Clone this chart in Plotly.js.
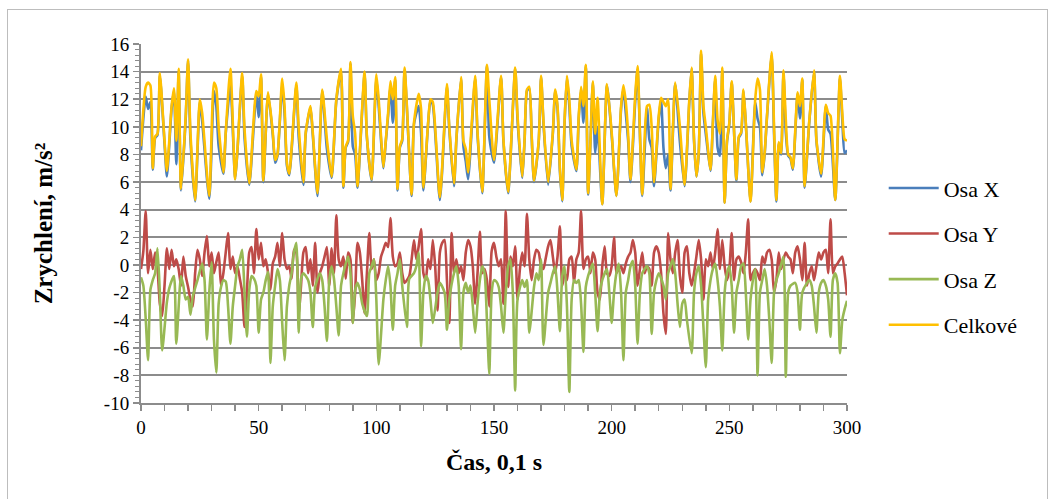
<!DOCTYPE html>
<html>
<head>
<meta charset="utf-8">
<script src="https://cdn.plot.ly/plotly-3.0.1.min.js"></script>
<style>
  html, body { margin: 0; padding: 0; background: #ffffff; }
  #wrap { position: relative; width: 1054px; height: 499px; overflow: hidden; }
  #chart { position: absolute; left: 0; top: 0; width: 1054px; height: 499px; }
  #frame { position: absolute; left: 7px; top: 9px; width: 1041px; height: 500px;
           border: 1px solid #bdbdbd; box-sizing: border-box; pointer-events: none; }
</style>
</head>
<body>
<div id="wrap">
  <div id="chart"></div>
  <div id="frame"></div>
</div>
<script>
// Time samples (0,1 s steps) and acceleration values, m/s^2
const tXC = [0,2,3,4,5,6,7,8,10,11,13,14,15,16,17,19,20,21,23,25,26,29,31,32,33,35,36,38,40,41,43,44,46,49,50,51,52,54,56,57,58,60,61,62,63,66,67,69,70,72,73,75,77,79,81,83,85,86,87,88,89,90,91,92,95,96,98,100,101,102,103,104,105,106,107,108,109,110,111,112,115,116,118,119,120,122,123,124,127,130,131,133,134,136,137,138,139,142,143,145,147,148,150,153,154,156,159,160,162,163,164,165,166,167,169,170,171,173,175,176,177,178,179,180,181,182,183,185,186,187,188,189,190,191,192,193,194,196,198,200,202,204,205,206,207,208,210,211,213,215,216,217,218,220,221,222,223,224,225,227,229,231,233,234,235,236,237,238,239,240,242,243,244,245,246,247,248,249,250,251,253,254,255,256,257,259,261,262,263,264,265,266,268,269,270,271,272,273,274,275,276,277,279,280,281,282,284,286,287,289,291,292,293,295,297,298,299,300];

const celkove = [8.6,12.9,13.2,13.0,7.0,9.3,9.5,13.9,9.0,6.8,11.5,12.8,9.0,14.2,5.5,10.8,14.9,9.6,4.7,12.0,11.0,5.0,13.2,12.8,10.0,6.7,9.6,14.2,6.2,8.4,13.9,9.8,5.9,12.6,12.2,13.8,6.1,12.5,9.6,7.6,8.0,13.5,11.5,7.4,6.6,13.2,10.0,6.0,9.6,11.5,9.6,5.2,12.7,9.1,6.4,12.0,14.2,5.7,8.6,9.0,14.7,10.8,9.5,5.7,14.0,9.3,6.2,13.8,12.0,9.3,7.1,9.0,11.0,13.3,12.0,13.6,5.5,8.6,9.1,14.3,5.1,10.3,12.4,11.3,5.6,10.3,12.0,11.8,4.9,13.1,10.0,5.9,9.1,13.6,9.0,8.4,6.7,13.7,9.6,5.3,14.5,12.0,7.6,13.7,9.1,5.3,14.3,10.8,6.4,9.1,12.7,12.9,9.5,6.1,9.0,13.7,10.5,6.0,9.6,12.7,11.5,7.0,4.7,10.5,13.7,12.0,9.0,6.9,10.8,12.9,11.5,14.5,5.2,9.0,13.3,9.5,12.1,4.4,13.1,9.6,5.0,11.5,13.0,11.8,9.5,6.2,12.3,14.4,5.1,11.5,11.6,10.0,6.0,10.8,12.1,11.8,11.5,12.0,5.5,13.2,10.0,5.8,12.0,14.3,9.1,6.4,8.2,15.5,11.5,10.0,6.9,10.3,13.7,10.5,9.5,14.3,4.5,9.0,10.3,13.3,6.2,9.3,9.6,12.7,10.3,4.6,12.0,13.5,12.7,6.7,8.1,10.8,15.4,10.0,4.7,8.9,8.1,14.1,10.5,8.0,7.8,7.0,12.5,11.5,13.5,5.7,10.5,14.1,9.1,6.6,11.6,11.0,10.8,4.7,13.7,11.0,9.1,9.0];

const osaX = [8.3,12.2,11.3,11.8,6.9,9.2,9.4,13.7,8.8,6.4,11.3,12.6,7.3,14.0,5.4,10.6,14.8,9.1,4.6,11.8,10.4,4.8,12.6,11.5,8.6,6.6,9.5,13.0,6.2,8.3,13.7,9.2,5.8,12.4,10.7,13.6,6.0,12.4,9.4,7.4,7.9,13.0,11.0,7.2,6.5,13.0,9.3,5.8,9.5,11.4,9.4,5.0,12.6,8.4,6.3,11.9,14.0,5.6,8.5,8.9,14.6,8.6,8.0,5.6,13.8,9.2,6.1,13.5,11.5,9.0,7.0,8.9,10.8,13.0,10.3,13.4,5.4,8.5,9.0,14.1,5.0,10.2,11.5,9.6,5.4,10.2,11.9,11.6,4.7,12.9,9.8,5.7,9.0,13.5,8.6,7.5,6.2,13.5,9.4,5.2,14.4,9.3,7.4,13.6,9.0,5.2,14.2,10.5,6.3,9.0,12.6,12.8,9.3,6.0,8.9,13.6,10.3,5.8,9.5,12.6,11.3,6.8,4.6,10.3,13.6,11.5,8.6,6.8,10.6,12.7,10.3,14.4,5.1,8.9,13.2,8.1,10.0,4.4,13.0,9.4,5.0,11.3,12.8,11.0,9.0,6.0,11.8,14.2,5.0,11.4,9.1,8.5,5.7,10.6,11.9,8.5,7.0,8.0,5.4,13.1,8.9,5.7,11.8,14.2,9.0,6.4,8.1,15.3,11.0,9.5,6.8,10.2,13.5,8.5,7.9,14.1,4.5,8.9,10.2,13.2,6.1,9.2,9.5,12.6,10.2,4.6,11.8,10.6,10.0,6.5,8.0,10.7,15.2,9.5,4.6,8.8,8.0,13.9,9.6,7.9,7.7,6.9,12.4,10.6,13.4,5.6,10.4,14.0,9.0,6.4,11.5,9.8,9.5,4.7,13.5,10.5,8.1,8.3];

const tY = [0,1,2,3,4,5,6,7,8,9,10,11,12,13,14,15,16,17,18,19,20,21,22,23,24,25,26,27,28,29,30,31,32,33,34,35,36,37,38,39,40,41,42,43,44,45,46,47,48,49,50,51,52,53,54,55,56,57,58,59,60,61,62,63,64,65,66,67,68,69,70,71,72,73,74,75,76,77,78,79,80,81,82,83,84,85,86,87,88,89,90,91,92,93,94,95,96,97,98,99,100,101,102,103,104,105,106,107,108,109,110,111,112,114,115,116,117,118,119,120,121,122,123,124,125,126,127,128,129,130,131,132,133,134,135,136,137,138,139,140,141,142,143,144,145,146,147,148,149,150,151,152,153,154,155,156,157,158,159,160,161,162,163,164,165,166,167,168,169,170,171,172,173,174,175,176,177,178,179,180,181,182,183,184,185,186,187,188,189,190,191,192,193,194,195,196,197,198,199,200,201,202,203,204,205,206,207,208,209,210,211,212,213,214,215,216,217,218,219,220,221,222,223,224,225,226,227,228,229,230,231,232,233,234,235,236,237,238,239,240,241,242,243,244,245,246,247,248,249,250,251,252,253,254,255,256,257,258,259,260,261,262,263,264,265,266,267,268,269,270,271,272,273,274,275,276,277,278,279,280,281,282,283,284,285,286,287,288,289,290,291,292,293,294,295,296,297,298,299,300];

const osaY = [-0.3,1.0,3.9,-0.6,1.1,-0.3,0.9,-0.2,-2.8,-3.7,-1.5,1.2,-0.3,1.1,-0.1,0.4,-0.3,-1.5,0.6,-0.8,-1.6,-2.5,-3.0,-0.6,1.1,0.4,-0.8,0.9,2.1,-0.1,0.9,-0.6,0.2,0.9,-1.5,-0.6,0.9,2.3,-0.3,0.6,-0.6,-0.1,-1.0,-2.0,-4.5,-2.0,0.9,1.3,-0.6,2.6,0.4,1.6,-0.1,0.4,-0.6,-1.8,0.1,0.6,1.6,-0.1,2.3,0.4,-0.3,-0.1,-1.0,1.1,0.9,-3.7,-1.5,0.9,1.3,-0.6,0.4,-1.5,1.6,-2.0,-0.6,-0.1,0.6,1.3,-1.5,1.2,-0.6,3.6,0.4,-0.1,0.6,-1.0,0.9,0.4,-4.2,-2.0,1.6,0.9,-1.1,-3.5,-0.6,2.3,-0.3,0.4,-1.1,-0.6,0.6,1.1,1.6,1.3,3.4,0.6,-0.1,0.1,0.9,-0.6,-1.3,-0.8,0.4,1.8,0.4,1.35,2.6,-0.6,-1.1,0.4,-0.3,1.8,-0.1,-3.3,0.9,1.6,1.8,-1.1,-4.2,2.3,-0.6,0.4,-0.6,-0.1,-1.1,0.9,1.8,1.35,-0.1,-2.8,-0.6,2.4,-0.6,-0.3,-1.1,-3.0,1.0,1.6,0.6,-0.1,0.4,-2.8,3.9,-1.6,0.6,-0.1,1.35,-2.5,-0.3,0.9,-0.1,3.7,0.4,-1.1,0.4,1.1,0.9,-0.1,-0.3,0.5,1.35,1.8,0.6,-0.6,0.6,2.8,-1.5,-0.6,-1.1,0.4,0.6,-1.3,0.4,0.9,3.9,-0.3,0.4,0.6,-0.6,0.9,0.4,-2.0,-2.5,-0.1,1.35,-0.6,-0.8,-0.1,2.0,-0.6,-0.3,-0.1,-0.6,0.1,0.6,0.9,1.8,0.9,-1.5,-0.3,0.9,-0.6,-0.1,-0.3,-1.5,0.9,1.35,0.9,-0.6,-3.5,-5.0,2.3,0.4,-0.6,0.9,1.8,-0.8,-2.0,0.9,1.35,-0.6,-1.5,-0.6,0.6,1.8,0.4,-2.5,0.4,-0.1,0.9,-0.3,0.9,2.6,-0.3,1.8,-0.1,-1.1,-0.3,2.3,-1.1,0.4,0.6,0.2,-0.6,0.9,3.3,-1.1,-0.6,-0.3,-0.6,-1.1,0.6,0.1,0.9,1.1,0.4,-2.0,-1.1,0.9,-0.3,0.4,0.9,0.6,0.4,-0.6,0.9,1.35,0.4,-1.1,1.6,-1.5,-0.6,-0.1,-1.1,-0.1,0.9,0.4,0.9,1.1,-0.6,3.3,-0.6,-0.1,0.1,0.4,0.6,-0.6,-2.2];

const tZ = [0,1,2,3,4,5,6,7,8,9,11,12,14,15,17,18,19,20,21,22,24,26,27,28,29,30,31,32,33,34,35,36,37,38,39,40,41,42,43,44,45,46,47,48,49,50,51,52,53,54,55,56,57,58,59,60,61,62,63,64,65,66,67,68,69,71,72,73,74,76,77,78,79,80,81,82,83,84,85,86,88,89,90,91,92,93,94,96,97,98,99,100,101,103,104,105,106,107,108,109,110,111,113,114,116,117,118,119,120,121,122,123,124,126,127,129,130,131,133,134,135,136,137,138,139,140,141,142,143,144,145,146,147,148,149,150,151,152,153,154,155,156,157,158,159,160,162,163,164,165,167,168,169,170,171,173,174,175,176,177,178,179,180,181,182,183,184,185,186,187,188,189,190,191,192,193,194,195,196,198,199,200,201,202,203,204,205,206,207,208,209,210,211,212,213,215,216,217,218,219,220,222,223,224,225,226,227,228,229,230,231,232,234,235,236,237,238,239,240,241,242,243,244,245,246,247,248,249,250,251,252,253,254,255,256,257,258,259,260,261,262,263,264,265,266,267,268,269,270,271,272,273,274,275,276,278,279,280,281,283,284,285,286,287,288,289,290,291,292,293,294,295,296,297,298,299,300];

const osaZ = [-0.9,-1.5,-3.9,-6.9,-1.8,-1.1,-0.6,1.2,-2.0,-6.2,-2.7,-1.7,-0.8,-5.7,-0.8,-1.5,-2.5,-2.3,-3.6,-2.3,-1.1,0.1,-1.1,-5.4,-2.0,0.2,-5.4,-7.8,-2.8,-1.6,-1.1,-1.2,-3.0,-5.7,-3.0,-1.5,-0.1,0.4,1.1,-2.0,-5.2,-1.8,-0.8,-1.0,-1.5,-4.9,-2.5,-2.0,-1.1,-0.5,-7.1,-3.0,-1.5,-0.3,-1.1,-4.2,-6.9,-3.0,-1.5,-0.6,0.9,1.6,-4.9,-1.0,-0.6,-1.1,-2.0,-4.5,-1.6,-0.6,-1.1,-3.0,-5.5,-1.1,-0.1,-1.0,-3.0,-5.1,-1.5,-0.6,0.6,-0.6,-4.2,-1.8,-1.3,-1.8,-2.8,-3.7,-0.6,-0.1,0.4,-2.5,-7.2,-2.5,-1.1,-0.1,-1.5,-4.7,-1.5,-0.6,0.4,-1.5,-4.5,-1.0,-0.6,-0.1,0.9,-5.9,-2.0,-0.8,-1.1,-2.5,-4.2,-2.0,-1.3,-2.0,-4.7,-2.5,-0.6,-0.1,-1.5,-6.1,-2.0,-1.3,-2.0,-1.5,-3.0,-4.9,-2.8,-1.1,-0.1,-0.6,-4.0,-7.9,-2.0,-1.1,-1.2,-1.6,-3.0,-4.9,-2.0,-0.1,0.4,-2.0,-9.1,-2.5,-1.1,-1.6,-1.1,-4.9,-1.6,-0.6,-1.1,0.4,-5.8,-2.0,-1.3,-0.6,-0.1,-2.0,-4.8,-0.8,-0.1,-3.0,-9.2,-2.5,-1.1,-1.3,-1.1,-2.8,-6.3,-1.6,-0.8,-0.3,0.1,-2.0,-4.8,-2.0,-1.1,-0.3,-2.0,-4.2,-2.0,-0.6,0.1,-2.0,-6.9,-2.0,-1.1,-0.1,0.3,-1.5,-5.7,-2.0,-0.6,-0.1,-0.6,-5.0,-2.0,-1.1,-0.6,-1.5,-2.5,-0.6,-0.1,0.4,-0.6,-2.8,-4.5,-2.8,-2.5,-4.0,-6.4,-2.0,-0.6,-0.1,-1.5,-4.5,-7.4,-2.5,-1.1,-0.3,0.1,-1.1,-3.0,-6.2,-2.0,-0.6,-0.1,-1.5,-4.9,-2.0,-1.1,-0.1,0.1,-2.0,-5.4,-2.5,-1.1,-0.3,-8.0,-2.0,-1.1,-0.3,-1.5,-4.0,-7.1,-2.0,-1.1,-0.6,0.0,0.6,-8.1,-2.0,-1.5,-1.3,-2.0,-4.7,-2.0,-1.3,-1.1,-1.5,-3.0,-4.9,-2.0,-1.3,-1.1,-1.5,-2.5,-5.2,-1.1,-0.6,-1.3,-6.4,-4.0,-3.2,-2.6];

const seriesNames = ['Osa X', 'Osa Y', 'Osa Z', 'Celkové'];
const seriesColors = ['#4a7ebb', '#be4b48', '#98b954', '#ffc000'];

// Axis tick labels (plain hyphen minus, as in the printed chart)
const yTickVals = [-10, -8, -6, -4, -2, 0, 2, 4, 6, 8, 10, 12, 14, 16];
const yTickText = ['-10', '-8', '-6', '-4', '-2', '0', '2', '4', '6', '8', '10', '12', '14', '16'];

const serif = 'Liberation Serif';
const gridGray = '#8c8c8c';

function lineTrace(x, y, i) {
  return {
    x: x, y: y, name: seriesNames[i], type: 'scatter', mode: 'lines',
    line: { color: seriesColors[i], width: 2.6, shape: 'spline', smoothing: 0.6 },
    legendgroup: 'g' + i, hoverinfo: 'skip'
  };
}

const data = [
  lineTrace(tXC, osaX, 0),
  lineTrace(tY, osaY, 1),
  lineTrace(tZ, osaZ, 2),
  lineTrace(tXC, celkove, 3)
];

const layout = {
  width: 1054, height: 499,
  margin: { l: 141, r: 207, t: 44, b: 96 },
  paper_bgcolor: '#ffffff', plot_bgcolor: '#ffffff',
  font: { family: serif, color: '#000000' },
  showlegend: true,
  legend: {
    x: 1.052, xanchor: 'left', y: 0.657, yanchor: 'top',
    font: { family: serif, size: 22, color: '#000000' },
    tracegroupgap: 14, itemwidth: 50, bgcolor: 'rgba(0,0,0,0)'
  },
  xaxis: {
    range: [0, 300], tick0: 0, dtick: 50,
    showgrid: false, zeroline: false,
    showline: true, linecolor: gridGray, linewidth: 2,
    ticks: 'outside', ticklen: 6, tickwidth: 1.5, tickcolor: gridGray,
    minor: { dtick: 10, ticks: 'outside', ticklen: 6, tickwidth: 1.5, tickcolor: gridGray, showgrid: false },
    tickfont: { family: serif, size: 19, color: '#000000' },
    title: { text: '<b>Čas, 0,1 s</b>', font: { family: serif, size: 24, color: '#000000' }, standoff: 16 },
    fixedrange: true
  },
  yaxis: {
    range: [-10, 16], tickmode: 'array', tickvals: yTickVals, ticktext: yTickText,
    showgrid: true, gridcolor: gridGray, gridwidth: 2, zeroline: false,
    showline: true, linecolor: gridGray, linewidth: 2,
    ticks: 'outside', ticklen: 6, tickwidth: 1.5, tickcolor: gridGray,
    minor: { tickmode: 'linear', tick0: -10, dtick: 0.4, ticks: 'outside', ticklen: 4, tickwidth: 1, tickcolor: gridGray, showgrid: false },
    tickfont: { family: serif, size: 19, color: '#000000' },
    title: { text: '<b>Zrychlení, m/s²</b>', font: { family: serif, size: 25, color: '#000000' }, standoff: 44 },
    fixedrange: true
  }
};

Plotly.newPlot('chart', data, layout, { displayModeBar: false, staticPlot: true });
</script>
</body>
</html>
